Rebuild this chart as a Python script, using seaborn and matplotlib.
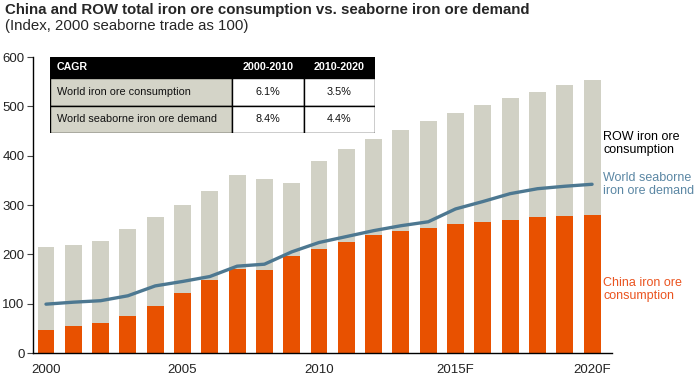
import numpy as np
import pandas as pd
import matplotlib
matplotlib.use("Agg")
import matplotlib.pyplot as plt
from matplotlib.patches import Rectangle
import seaborn as sns

# ---------------- data ----------------
years = [str(y) for y in range(2000, 2015)] + [f"{y}F" for y in range(2015, 2021)]
total_consumption = [215, 218, 228, 251, 276, 300, 329, 360, 353, 345, 390,
                     413, 434, 453, 470, 487, 502, 516, 530, 543, 554]
china_consumption = [46, 55, 60, 75, 95, 122, 147, 170, 168, 196, 211,
                     226, 239, 248, 254, 261, 266, 270, 276, 278, 280]
seaborne_demand = [99, 103, 106, 116, 136, 145, 155, 176, 180, 205, 224,
                   236, 248, 258, 266, 292, 307, 323, 333, 338, 342]
tick_labels = ["2000", "2005", "2010", "2015F", "2020F"]
yticks = [0, 100, 200, 300, 400, 500, 600]

table_header = ["CAGR", "2000-2010", "2010-2020"]
table_rows = ["World iron ore consumption", "World seaborne iron ore demand"]
table_vals = [["6.1%", "3.5%"], ["8.4%", "4.4%"]]

title = "China and ROW total iron ore consumption vs. seaborne iron ore demand"
subtitle = "(Index, 2000 seaborne trade as 100)"

GRAY = "#D1D1C5"
ORANGE = "#E85100"
LINE = "#4D7891"
BLUE_TXT = "#5B87A4"
RED_TXT = "#EA5420"

# ---------------- style ----------------
sns.set_style("white")
plt.rcParams["font.family"] = ["Liberation Sans", "DejaVu Sans"]

W, H = 700, 388
fig = plt.figure(figsize=(7.0, 3.88), dpi=100)
ax = fig.add_axes([33 / W, 1 - 353 / H, (612 - 33) / W, (353 - 57) / H])

df = pd.DataFrame({"year": years, "total": total_consumption,
                   "china": china_consumption, "seaborne": seaborne_demand})

sns.barplot(data=df, x="year", y="total", color=GRAY, width=0.62,
            saturation=1, ax=ax, order=years)
sns.barplot(data=df, x="year", y="china", color=ORANGE, width=0.62,
            saturation=1, ax=ax, order=years)
for p in ax.patches:
    p.set_edgecolor("none")

df["pos"] = np.arange(len(years))
sns.lineplot(data=df, x="pos", y="seaborne", color=LINE, linewidth=2.4, ax=ax)

ax.set_xlim(-0.476, 20.73)
ax.set_ylim(0, 600)
ax.set_yticks(yticks)
ax.set_yticklabels([str(v) for v in yticks], fontsize=9.5, color="#222222")
ax.set_xticks([years.index(t) for t in tick_labels])
ax.set_xticklabels(tick_labels, fontsize=9.5, color="#222222")
ax.set_xlabel("")
ax.set_ylabel("")
ax.tick_params(axis="y", length=4, width=0.8, color="#444444", pad=2, direction="out", left=True)
ax.tick_params(axis="x", length=0, pad=8)
for s in ["top", "right"]:
    ax.spines[s].set_visible(False)
for s in ["left", "bottom"]:
    ax.spines[s].set_color("black")
    ax.spines[s].set_linewidth(1.0)

# ---------------- annotations ----------------
fig.text(603 / W, 1 - 131 / H, "ROW iron ore\nconsumption", fontsize=9, color="black",
         va="top", ha="left", linespacing=1.1)
fig.text(603 / W, 1 - 172 / H, "World seaborne\niron ore demand", fontsize=9, color=BLUE_TXT,
         va="top", ha="left", linespacing=1.1)
fig.text(603 / W, 1 - 277 / H, "China iron ore\nconsumption", fontsize=9, color=RED_TXT,
         va="top", ha="left", linespacing=1.1)

fig.text(5 / W, 1 - 3 / H, title, fontsize=10.8, fontweight="bold", va="top", ha="left")
fig.text(5 / W, 1 - 19 / H, subtitle, fontsize=10.8, va="top", ha="left")

# ---------------- CAGR table ----------------
tx0, ty0, tw, th = 50, 57, 325, 76
tax = fig.add_axes([tx0 / W, 1 - (ty0 + th) / H, tw / W, th / H])
tax.set_xlim(0, tw)
tax.set_ylim(th, 0)
tax.axis("off")
col_w = [182, 72, 71]
row_h = [21, 27.5, 27.5]
xs = [0, col_w[0], col_w[0] + col_w[1], tw]
ys = [0, row_h[0], row_h[0] + row_h[1], th]
# header
tax.add_patch(Rectangle((0, 0), tw, row_h[0], facecolor="black", edgecolor="black", lw=1))
tax.text(7, row_h[0] / 2, table_header[0], color="white", fontsize=7.7, fontweight="bold",
         ha="left", va="center")
for j in (1, 2):
    tax.text((xs[j] + xs[j + 1]) / 2, row_h[0] / 2, table_header[j], color="white",
             fontsize=7.7, fontweight="bold", ha="center", va="center")
for i, name in enumerate(table_rows):
    y0 = ys[i + 1]
    h = row_h[i + 1]
    tax.add_patch(Rectangle((0, y0), col_w[0], h, facecolor="#D4D4C8", edgecolor="black", lw=1))
    tax.text(7, y0 + h / 2, name, fontsize=7.8, ha="left", va="center", color="#111111")
    for j in (1, 2):
        tax.add_patch(Rectangle((xs[j], y0), col_w[j], h, facecolor="white",
                                edgecolor="black", lw=1))
        tax.text((xs[j] + xs[j + 1]) / 2, y0 + h / 2, table_vals[i][j - 1], fontsize=7.8,
                 ha="center", va="center", color="#111111")

fig.savefig("out.png", dpi=100)
